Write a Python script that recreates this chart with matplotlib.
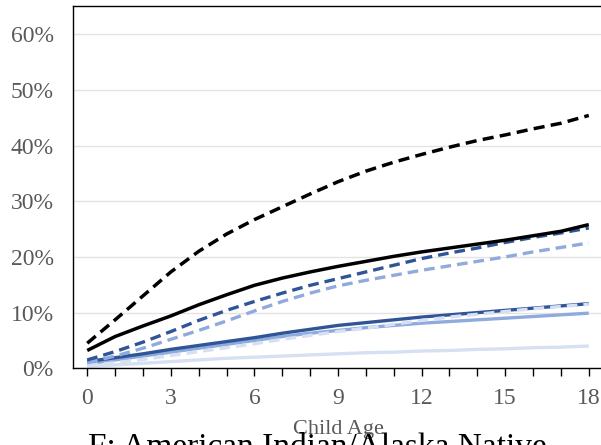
import matplotlib.pyplot as plt
import numpy as np
from matplotlib.ticker import PercentFormatter

# Child age 0..18
ages = np.arange(19)

# cumulative shares (percent)
black_dashed = [4.5, 8.7, 13.0, 17.3, 21.0, 24.1, 26.7, 29.0, 31.3, 33.5,
                35.4, 37.0, 38.4, 39.7, 40.9, 41.9, 43.0, 44.0, 45.4]
black_solid = [3.2, 5.7, 7.6, 9.4, 11.4, 13.2, 14.9, 16.2, 17.3, 18.3,
               19.2, 20.1, 20.9, 21.6, 22.3, 23.0, 23.8, 24.6, 25.8]
dark_dashed = [1.5, 3.0, 4.7, 6.6, 8.6, 10.4, 12.0, 13.5, 14.9, 16.1,
               17.3, 18.5, 19.7, 20.7, 21.6, 22.6, 23.5, 24.3, 25.2]
mid_dashed = [1.0, 2.2, 3.6, 5.2, 6.8, 8.5, 10.3, 12.0, 13.5, 14.8,
              15.8, 16.7, 17.6, 18.4, 19.2, 20.0, 20.9, 21.7, 22.5]
dark_solid = [1.2, 1.9, 2.6, 3.4, 4.1, 4.8, 5.5, 6.3, 7.0, 7.7,
              8.2, 8.7, 9.2, 9.6, 10.0, 10.4, 10.8, 11.2, 11.6]
mid_solid = [0.8, 1.5, 2.2, 2.9, 3.6, 4.3, 5.0, 5.7, 6.3, 6.8,
             7.3, 7.7, 8.1, 8.4, 8.7, 9.0, 9.3, 9.6, 9.9]
light_dashed = [0.5, 1.0, 1.6, 2.3, 3.0, 3.7, 4.4, 5.2, 5.9, 6.6,
                7.2, 7.9, 8.6, 9.2, 9.7, 10.2, 10.7, 11.1, 11.5]
light_solid = [0.3, 0.6, 0.9, 1.2, 1.5, 1.8, 2.0, 2.2, 2.4, 2.6,
               2.8, 2.9, 3.1, 3.2, 3.4, 3.5, 3.7, 3.8, 4.0]

plt.rcParams['font.family'] = ['Liberation Serif', 'DejaVu Serif']

fig = plt.figure(figsize=(6.01, 4.45), dpi=100)
ax = fig.add_axes([73.3 / 601, 1 - 368.3 / 445, 529.4 / 601, 362 / 445])

dark = '#2F5597'
mid = '#8FAADC'
light = '#D6E0F3'
dash = (0, (3.2, 1.8))

ax.plot(ages, light_solid, color=light, lw=2.4, solid_capstyle='butt')
ax.plot(ages, mid_solid, color=mid, lw=2.4, solid_capstyle='butt')
ax.plot(ages, dark_solid, color=dark, lw=2.4, solid_capstyle='butt')
ax.plot(ages, light_dashed, color=light, lw=2.4, ls=dash)
ax.plot(ages, mid_dashed, color=mid, lw=2.4, ls=dash)
ax.plot(ages, dark_dashed, color=dark, lw=2.4, ls=dash)
ax.plot(ages, black_solid, color='black', lw=2.5, solid_capstyle='butt')
ax.plot(ages, black_dashed, color='black', lw=2.5, ls=dash)

ax.set_xlim(-0.5, 18.5)
ax.set_ylim(0, 65)
ax.set_xticks(np.arange(0, 19, 3))
ax.set_xticks(np.arange(0, 19, 1), minor=True)
ax.set_yticks(np.arange(0, 61, 10))
ax.yaxis.set_major_formatter(PercentFormatter(decimals=0))

ax.grid(axis='y', color='#E3E3E3', lw=1)
ax.set_axisbelow(True)
for s in ax.spines.values():
    s.set_color('black')
    s.set_linewidth(1)

ax.tick_params(axis='y', length=0, labelsize=17, labelcolor='#595959', pad=14)
ax.tick_params(axis='x', which='both', length=6, width=1, direction='out',
               labelsize=17, labelcolor='#595959', pad=8)

ax.set_xlabel('Child Age', fontsize=16, color='#595959', labelpad=8)
fig.text(88 / 601, 1 - 432 / 445, 'F: American Indian/Alaska Native',
         fontsize=24, color='black', ha='left', va='top')

plt.savefig('out.png', dpi=100)
